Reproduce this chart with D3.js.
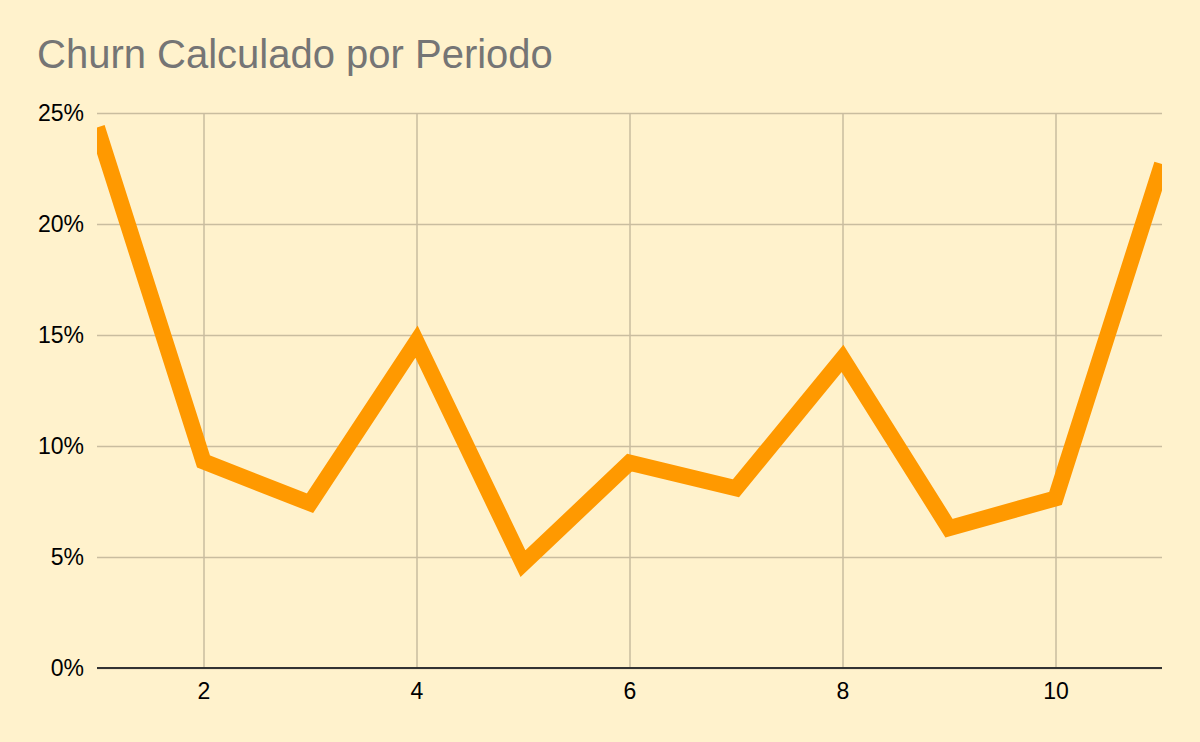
<!DOCTYPE html>
<html>
<head>
<meta charset="utf-8">
<script src="https://cdn.jsdelivr.net/npm/d3@7"></script>
<style>
  body { margin: 0; background: #fff2cc; }
  svg { display: block; font-family: "Liberation Sans", Arial, sans-serif; }
  .grid line { stroke: #c9bd9f; stroke-width: 1.5; }
  .grid path { display: none; }
  .tick text { fill: #000; font-size: 23px; }
</style>
</head>
<body>
<svg id="chart"></svg>
<script>
var title = "Churn Calculado por Periodo";
var periods = [1, 2, 3, 4, 5, 6, 7, 8, 9, 10, 11];
var churn = [0.2435, 0.093, 0.0742, 0.147, 0.047, 0.0925, 0.081, 0.1394, 0.063, 0.0764, 0.227];
var xTicks = [2, 4, 6, 8, 10];
var yTicks = [0, 0.05, 0.10, 0.15, 0.20, 0.25];

var W = 1200, H = 742;
var margin = { top: 113, right: 38, bottom: 74, left: 97 };
var width = W - margin.left - margin.right;
var height = H - margin.top - margin.bottom;

var svg = d3.select("#chart").
  attr("width", W).
  attr("height", H);

svg.append("rect").
  attr("width", W).
  attr("height", H).
  attr("fill", "#fff2cc");

svg.append("text").
  attr("x", 37).
  attr("y", 68).
  attr("fill", "#757575").
  attr("font-size", 40).
  text(title);

var g = svg.append("g").
  attr("transform", "translate(" + margin.left + "," + margin.top + ")");

var xScale = d3.scaleLinear().
  domain([1, 11]).
  range([0, width]);

var yScale = d3.scaleLinear().
  domain([0, 0.25]).
  range([height, 0]);

// horizontal grid + y labels
var yAxis = d3.axisLeft(yScale).
  tickValues(yTicks).
  tickFormat(d3.format(".0%")).
  tickSize(-width).
  tickPadding(13);

g.append("g").
  attr("class", "grid y").
  call(yAxis);

// vertical grid + x labels
var xAxis = d3.axisBottom(xScale).
  tickValues(xTicks).
  tickSize(-height).
  tickPadding(14);

g.append("g").
  attr("class", "grid x").
  attr("transform", "translate(0," + height + ")").
  call(xAxis);

g.selectAll(".grid.x text").attr("y", 31).attr("dy", 0);

// baseline
g.append("line").
  attr("x1", 0).
  attr("x2", width).
  attr("y1", yScale(0)).
  attr("y2", yScale(0)).
  attr("stroke", "#333").
  attr("stroke-width", 2);

g.append("defs").append("clipPath").
  attr("id", "clip").append("rect").
  attr("y", -20).
  attr("width", width).
  attr("height", height + 40);

var line = d3.line().
  x(function(d, i) { return xScale(periods[i]); }).
  y(function(d) { return yScale(d); });

g.append("path").
  datum(churn).
  attr("clip-path", "url(#clip)").
  attr("fill", "none").
  attr("stroke", "#ff9900").
  attr("stroke-width", 16).
  attr("stroke-linejoin", "miter").
  attr("d", line);
</script>
</body>
</html>
